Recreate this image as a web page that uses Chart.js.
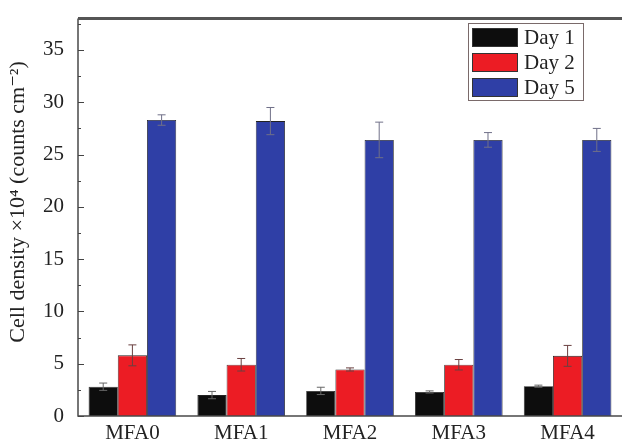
<!DOCTYPE html>
<html>
<head>
<meta charset="utf-8">
<script src="https://cdn.jsdelivr.net/npm/chart.js@4"></script>
<style>
  html, body { margin: 0; padding: 0; background: #fff; }
  #wrap { width: 622px; height: 446px; }
</style>
</head>
<body>
<div id="wrap"><canvas id="myChart" width="622" height="446"></canvas></div>
<script>
// values
const groups = ['MFA0', 'MFA1', 'MFA2', 'MFA3', 'MFA4'];
const seriesNames = ['Day 1', 'Day 2', 'Day 5'];
const day1 = [2.8, 2.0, 2.4, 2.3, 2.85];
const day2 = [5.8, 4.9, 4.45, 4.9, 5.75];
const day5 = [28.3, 28.2, 26.4, 26.4, 26.4];
const day1Err = [0.35, 0.35, 0.35, 0.1, 0.1];
const day2Err = [1.0, 0.6, 0.15, 0.5, 1.0];
const day5Err = [0.5, 1.3, 1.7, 0.7, 1.1];
const yTicks = [0, 5, 10, 15, 20, 25, 30, 35];
const yTitle = 'Cell density \u00d710\u2074 (counts cm\u207b\u00b2)';

const colors = ['#0d0d0d', '#ec1c24', '#2f3fa6'];
const serif = '"Liberation Serif", "DejaVu Serif", serif';

// error bars drawn through the scales
const errorBars = {
  id: 'errorBars',
  afterDatasetsDraw(chart) {
    const ctx = chart.ctx;
    const y = chart.scales.y;
    const tint = ['#666', '#6a4040', '#707088'];
    chart.data.datasets.forEach((ds, i) => {
      const meta = chart.getDatasetMeta(i);
      meta.data.forEach((bar, j) => {
        const v = ds.data[j], e = ds.errors[j];
        const yt = y.getPixelForValue(v + e);
        const yb = y.getPixelForValue(v - e);
        ctx.save();
        ctx.strokeStyle = tint[i];
        ctx.lineWidth = 1;
        ctx.beginPath();
        ctx.moveTo(bar.x, yt); ctx.lineTo(bar.x, yb);
        ctx.moveTo(bar.x - 4, yt); ctx.lineTo(bar.x + 4, yt);
        ctx.moveTo(bar.x - 4, yb); ctx.lineTo(bar.x + 4, yb);
        ctx.stroke();
        ctx.restore();
      });
    });
  }
};

// frame, inward ticks, y title and inset legend
const frame = {
  id: 'frame',
  afterDraw(chart) {
    const ctx = chart.ctx;
    const a = chart.chartArea;
    const y = chart.scales.y;
    ctx.save();
    ctx.strokeStyle = '#4a4a4a';
    ctx.lineWidth = 1.5;
    ctx.beginPath();
    ctx.moveTo(a.right + 10, a.bottom); ctx.lineTo(a.left, a.bottom); ctx.lineTo(a.left, a.top);
    ctx.stroke();
    ctx.lineWidth = 3;
    ctx.strokeStyle = '#555';
    ctx.beginPath();
    ctx.moveTo(a.left, a.top); ctx.lineTo(a.right + 10, a.top);
    ctx.stroke();
    ctx.lineWidth = 1;
    ctx.strokeStyle = '#444';
    for (let v = 0; v <= 37.5; v += 2.5) {
      const py = Math.round(y.getPixelForValue(v)) + 0.5;
      const len = v % 5 === 0 ? 6 : 3;
      ctx.beginPath();
      ctx.moveTo(a.left, py); ctx.lineTo(a.left + len, py);
      ctx.stroke();
    }
    // y title
    ctx.save();
    ctx.translate(18, 202);
    ctx.rotate(-Math.PI / 2);
    ctx.font = '22px ' + serif;
    ctx.fillStyle = '#222';
    ctx.textAlign = 'center';
    ctx.textBaseline = 'middle';
    ctx.fillText(yTitle, 0, 0);
    ctx.restore();
    // legend
    const lx = 468, ly = 23, lw = 115, lh = 77;
    ctx.fillStyle = '#fff';
    ctx.fillRect(lx, ly, lw, lh);
    ctx.strokeStyle = '#7a6a6a';
    ctx.lineWidth = 1;
    ctx.strokeRect(lx + 0.5, ly + 0.5, lw, lh);
    ctx.font = '21px ' + serif;
    ctx.textBaseline = 'middle';
    chart.data.datasets.forEach((ds, i) => {
      const ry = ly + 5 + i * 25;
      ctx.fillStyle = ds.backgroundColor;
      ctx.fillRect(lx + 4, ry, 46, 19);
      ctx.strokeStyle = '#333';
      ctx.strokeRect(lx + 4.5, ry + 0.5, 45, 18);
      ctx.fillStyle = '#222';
      ctx.fillText(ds.label, lx + 56, ry + 10);
    });
    ctx.restore();
  }
};

const datasets = [day1, day2, day5].map((d, i) => ({
  label: seriesNames[i],
  data: d,
  errors: [day1Err, day2Err, day5Err][i],
  backgroundColor: colors[i],
  borderColor: '#222',
  borderWidth: 0.8,
  borderSkipped: 'bottom',
  barPercentage: 1.0,
  categoryPercentage: 0.805
}));

new Chart(document.getElementById('myChart').getContext('2d'), {
  type: 'bar',
  data: { labels: groups, datasets: datasets },
  options: {
    responsive: false,
    animation: false,
    layout: { padding: { top: 5, right: 0, left: 0, bottom: 0 } },
    plugins: { legend: { display: false }, tooltip: { enabled: false } },
    scales: {
      x: {
        grid: { display: false },
        border: { display: false },
        ticks: { color: '#222', font: { family: serif, size: 21 }, padding: -3 },
        afterFit(scale) { scale.height = 30; }
      },
      y: {
        min: 0,
        max: 38,
        grid: { display: false },
        border: { display: false },
        afterBuildTicks(scale) { scale.ticks = yTicks.map(v => ({ value: v })); },
        ticks: { color: '#222', font: { family: serif, size: 21 }, padding: 6 },
        title: { display: false },
        afterFit(scale) { scale.width = 78; }
      }
    }
  },
  plugins: [errorBars, frame]
});
</script>
</body>
</html>
